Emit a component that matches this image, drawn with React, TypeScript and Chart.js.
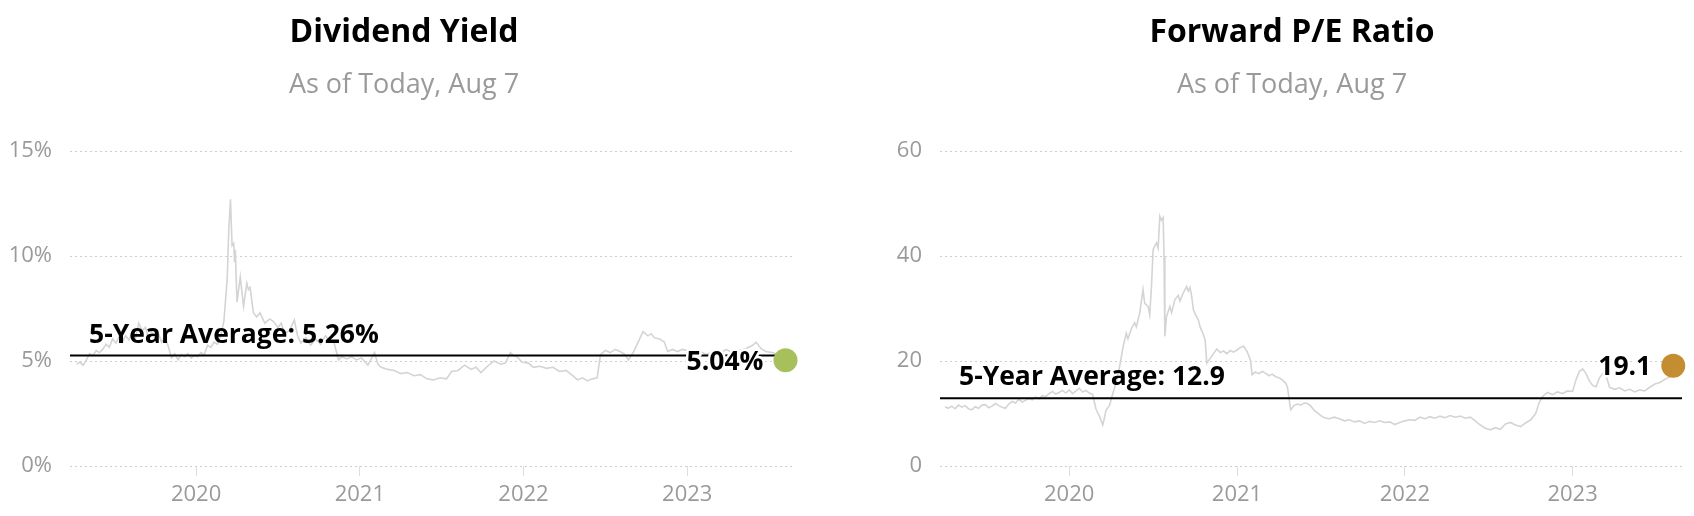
import React, { useEffect, useRef } from "react";
import { Chart, registerables } from "chart.js";

Chart.register(...registerables);

const FONT = '"Open Sans", "DejaVu Sans", sans-serif';

// shared x range (decimal years) and year tick labels
const X_MIN = 2019.23;
const X_MAX = 2023.652;
const yearTicks = [2020, 2021, 2022, 2023];

// ---------- Dividend Yield ----------
const yieldDates = [
  2019.27, 2019.29, 2019.31, 2019.33, 2019.35, 2019.37, 2019.39, 2019.41, 2019.43, 2019.45,
  2019.47, 2019.49, 2019.51, 2019.53, 2019.55, 2019.57, 2019.59, 2019.61, 2019.63, 2019.65,
  2019.67, 2019.69, 2019.71, 2019.73, 2019.75, 2019.77, 2019.79, 2019.81, 2019.83, 2019.85,
  2019.87, 2019.89, 2019.91, 2019.93, 2019.95, 2019.97, 2019.99, 2020.01, 2020.03, 2020.05,
  2020.07, 2020.09, 2020.11, 2020.13, 2020.15, 2020.17, 2020.19, 2020.2, 2020.21, 2020.22,
  2020.23, 2020.235, 2020.24, 2020.245, 2020.25, 2020.27, 2020.28, 2020.29, 2020.31, 2020.32,
  2020.33, 2020.35, 2020.37, 2020.39, 2020.42, 2020.45, 2020.47, 2020.5, 2020.52, 2020.54,
  2020.57, 2020.6, 2020.62, 2020.64, 2020.67, 2020.7, 2020.73, 2020.76, 2020.79, 2020.82,
  2020.84, 2020.87, 2020.89, 2020.92, 2020.95, 2020.98, 2021.01, 2021.05, 2021.09, 2021.11,
  2021.13, 2021.17, 2021.21, 2021.25, 2021.29, 2021.33, 2021.37, 2021.41, 2021.45, 2021.49,
  2021.53, 2021.56, 2021.6, 2021.64, 2021.68, 2021.71, 2021.74, 2021.78, 2021.82, 2021.86,
  2021.89, 2021.92, 2021.94, 2021.96, 2021.99, 2022.03, 2022.06, 2022.1, 2022.14, 2022.18,
  2022.22, 2022.26, 2022.3, 2022.33, 2022.36, 2022.39, 2022.42, 2022.45, 2022.47, 2022.5,
  2022.53, 2022.56, 2022.59, 2022.62, 2022.64, 2022.67, 2022.7, 2022.73, 2022.76, 2022.78,
  2022.8, 2022.83, 2022.86, 2022.88, 2022.91, 2022.94, 2022.97, 2023.0, 2023.04, 2023.08,
  2023.12, 2023.16, 2023.2, 2023.24, 2023.28, 2023.32, 2023.36, 2023.4, 2023.42, 2023.45,
  2023.48, 2023.52, 2023.56, 2023.6,
];
const yieldValues = [
  4.85, 4.95, 4.8, 5.05, 5.35, 5.25, 5.5, 5.4, 5.55, 5.8,
  5.65, 6.05, 5.85, 6.15, 5.9, 6.2, 6.0, 6.35, 6.1, 6.8,
  6.45, 6.6, 6.1, 6.4, 6.05, 6.3, 5.9, 6.15, 5.7, 5.15,
  5.35, 5.05, 5.3, 5.2, 5.35, 5.15, 5.25, 5.2, 5.4, 5.3,
  5.75, 5.65, 5.9, 5.8, 6.2, 6.9, 8.9, 11.25, 12.7, 10.5,
  10.6, 9.7, 10.3, 8.9, 7.8, 9.0, 8.3, 7.6, 8.7, 8.4,
  8.5, 7.3, 7.1, 7.3, 6.8, 7.0, 6.9, 6.6, 6.8, 6.3,
  6.45, 6.95, 6.2, 5.85, 6.1, 5.75, 6.05, 5.8, 6.2, 5.9,
  5.95, 5.05, 5.2, 5.1, 5.2, 5.05, 5.15, 4.8, 5.4, 4.85,
  4.7, 4.6, 4.55, 4.4, 4.45, 4.3, 4.35, 4.15, 4.1, 4.2,
  4.15, 4.5, 4.55, 4.8, 4.6, 4.7, 4.45, 4.75, 5.0, 4.85,
  4.9, 5.4, 5.25, 5.2, 4.95, 4.9, 4.7, 4.75, 4.65, 4.7,
  4.5, 4.55, 4.3, 4.1, 4.2, 4.05, 4.15, 4.2, 5.3, 5.5,
  5.4, 5.55, 5.45, 5.3, 5.05, 5.4, 5.9, 6.4, 6.2, 6.3,
  6.1, 6.05, 5.9, 5.45, 5.55, 5.45, 5.55, 5.5, 5.35, 5.45,
  5.3, 5.5, 5.4, 5.55, 5.35, 5.5, 5.6, 5.75, 5.9, 5.6,
  5.45, 5.4, 5.3, 5.04,
];
const yieldAverage = 5.26;
const yieldTicks = [0, 5, 10, 15];

// ---------- Forward P/E ----------
const peDates = [
  2019.26, 2019.28, 2019.3, 2019.32, 2019.34, 2019.36, 2019.38, 2019.4, 2019.42, 2019.44,
  2019.46, 2019.48, 2019.5, 2019.52, 2019.54, 2019.56, 2019.58, 2019.6, 2019.62, 2019.64,
  2019.66, 2019.68, 2019.7, 2019.72, 2019.74, 2019.76, 2019.78, 2019.8, 2019.82, 2019.84,
  2019.86, 2019.88, 2019.9, 2019.92, 2019.94, 2019.96, 2019.98, 2020.0, 2020.02, 2020.04,
  2020.06, 2020.08, 2020.1, 2020.12, 2020.14, 2020.16, 2020.18, 2020.2, 2020.21, 2020.22,
  2020.24, 2020.26, 2020.28, 2020.3, 2020.32, 2020.34, 2020.35, 2020.37, 2020.39, 2020.4,
  2020.42, 2020.44, 2020.45, 2020.47, 2020.48, 2020.49, 2020.5, 2020.52, 2020.53, 2020.54,
  2020.55, 2020.56, 2020.565, 2020.57, 2020.58, 2020.6, 2020.61, 2020.63, 2020.65, 2020.66,
  2020.68, 2020.7, 2020.71, 2020.72, 2020.73, 2020.74, 2020.75, 2020.77, 2020.78, 2020.8,
  2020.81, 2020.82, 2020.84, 2020.86, 2020.88, 2020.9, 2020.92, 2020.94, 2020.96, 2020.98,
  2021.0, 2021.02, 2021.04, 2021.06, 2021.08, 2021.09, 2021.11, 2021.13, 2021.15, 2021.17,
  2021.19, 2021.21, 2021.23, 2021.25, 2021.27, 2021.29, 2021.3, 2021.32, 2021.34, 2021.36,
  2021.38, 2021.4, 2021.42, 2021.44, 2021.46, 2021.48, 2021.5, 2021.52, 2021.55, 2021.58,
  2021.61, 2021.64, 2021.67, 2021.7, 2021.73, 2021.76, 2021.79, 2021.82, 2021.85, 2021.88,
  2021.91, 2021.94, 2021.97, 2022.0, 2022.03, 2022.06, 2022.09, 2022.12, 2022.15, 2022.18,
  2022.21, 2022.24, 2022.27, 2022.3, 2022.33, 2022.36, 2022.39, 2022.42, 2022.45, 2022.48,
  2022.51, 2022.54, 2022.57, 2022.6, 2022.63, 2022.66, 2022.69, 2022.72, 2022.75, 2022.78,
  2022.8, 2022.82, 2022.85, 2022.88, 2022.91, 2022.94, 2022.97, 2023.0, 2023.02, 2023.04,
  2023.06, 2023.08, 2023.1, 2023.12, 2023.14, 2023.16, 2023.18, 2023.2, 2023.22, 2023.25,
  2023.28, 2023.31, 2023.34, 2023.37, 2023.4, 2023.43, 2023.46, 2023.49, 2023.52, 2023.55,
  2023.58, 2023.6,
];
const peValues = [
  11.3, 11.0, 11.4, 10.9, 11.6, 11.2, 11.5, 10.9, 10.7, 11.3,
  11.0, 11.6, 11.7, 11.1, 11.4, 11.9, 11.5, 11.2, 11.0, 11.8,
  12.3, 12.0, 12.7, 12.2, 12.5, 12.9, 12.6, 13.1, 12.8, 13.4,
  13.2, 13.8, 14.2, 13.7, 14.0, 14.4, 13.9, 14.5, 13.8, 14.3,
  14.8, 14.1, 14.4, 13.9, 13.6, 10.8, 9.5, 7.8, 9.2, 10.7,
  11.5, 13.8, 16.0, 18.9, 22.5, 25.3, 24.2, 26.1, 27.3, 26.5,
  29.1, 33.6, 31.0, 30.4, 28.8, 34.0, 41.2, 42.5, 41.5, 47.6,
  46.8, 47.3, 40.0, 24.7, 28.5, 30.4, 29.2, 31.7, 32.5, 31.4,
  33.0, 34.2, 33.3, 34.0, 32.3, 29.8, 29.0, 27.8, 26.5, 25.0,
  24.0, 19.6, 20.5, 21.4, 22.3, 21.6, 21.9, 21.4, 22.0, 21.7,
  22.1, 22.6, 22.8, 21.8, 20.2, 17.4, 17.9, 17.6, 18.0, 17.7,
  17.2, 17.5, 17.0, 16.8, 16.4, 15.8, 15.1, 10.7, 11.5, 11.8,
  11.6, 12.0, 11.9, 11.4, 10.6, 10.1, 9.6, 9.2, 9.0, 9.3,
  9.0, 8.6, 8.8, 8.4, 8.6, 8.1, 8.5, 8.3, 8.6, 8.3,
  8.4, 7.9, 8.3, 8.6, 8.8, 8.7, 9.3, 9.0, 9.4, 9.1,
  9.5, 9.2, 9.6, 9.3, 9.5, 9.1, 9.3, 8.6, 7.8, 7.2,
  6.9, 7.3, 7.0, 8.0, 8.3, 7.8, 7.5, 8.2, 8.8, 10.0,
  12.0, 13.2, 14.0, 13.6, 14.1, 13.8, 14.3, 14.2, 16.4, 18.0,
  18.5, 17.6, 16.2, 15.3, 15.1, 16.8, 17.6, 17.2, 15.0, 14.6,
  14.9, 14.3, 14.6, 14.1, 14.5, 14.3, 15.0, 15.6, 15.9, 16.5,
  17.0, 19.1,
];
const peAverage = 12.9;
const peTicks = [0, 20, 40, 60];

type Spec = {
  title: string;
  subtitle: string;
  dates: number[];
  values: number[];
  average: number;
  averageLabel: string;
  currentLabel: string;
  dotColor: string;
  yTicks: number[];
  yFormat: (v: number) => string;
  axisWidth: number;
  rightPad: number;
};

function makeChart(canvas: HTMLCanvasElement, s: Spec) {
  const n = s.values.length;
  const lastX = s.dates[n - 1];
  const lastY = s.values[n - 1];
  const labelSize = 26.5;

  const textPlugin = {
    id: "textPlugin",
    afterDatasetsDraw(chart: any) {
      const ctx = chart.ctx;
      const xs = chart.scales.x;
      const ys = chart.scales.y;
      const area = chart.chartArea;
      ctx.save();
      // average label
      ctx.font = `700 ${labelSize}px ${FONT}`;
      ctx.fillStyle = "#000";
      ctx.textAlign = "left";
      ctx.textBaseline = "alphabetic";
      ctx.fillText(s.averageLabel, area.left + 19, ys.getPixelForValue(s.average) - 13);
      // current value label with white halo
      const dx = xs.getPixelForValue(lastX);
      const dy = ys.getPixelForValue(lastY);
      ctx.textAlign = "right";
      ctx.lineJoin = "round";
      ctx.lineWidth = 5;
      ctx.strokeStyle = "#fff";
      const by = dy + labelSize * 0.357;
      ctx.strokeText(s.currentLabel, dx - 22, by);
      ctx.fillText(s.currentLabel, dx - 22, by);
      ctx.restore();
    },
    afterDraw(chart: any) {
      const ctx = chart.ctx;
      ctx.save();
      ctx.textAlign = "center";
      ctx.textBaseline = "alphabetic";
      ctx.fillStyle = "#000";
      ctx.font = `700 32px ${FONT}`;
      ctx.fillText(s.title, chart.width / 2, 42);
      ctx.fillStyle = "#9a9a9a";
      ctx.font = `400 27px ${FONT}`;
      ctx.fillText(s.subtitle, chart.width / 2, 93);
      ctx.restore();
    },
  };

  return new Chart(canvas, {
    type: "line",
    data: {
      datasets: [
        {
          label: "current",
          data: [{ x: lastX, y: lastY }],
          pointRadius: 12,
          pointBackgroundColor: s.dotColor,
          pointBorderWidth: 0,
          showLine: false,
          clip: false,
          order: 0,
        },
        {
          label: "average",
          data: [
            { x: X_MIN, y: s.average },
            { x: X_MAX, y: s.average },
          ],
          borderColor: "#000",
          borderWidth: 2,
          pointRadius: 0,
          order: 1,
        },
        {
          label: "series",
          data: s.dates.map((d, i) => ({ x: d, y: s.values[i] })),
          borderColor: "#d4d4d4",
          borderWidth: 1.6,
          pointRadius: 0,
          tension: 0,
          order: 2,
        },
      ],
    },
    options: {
      animation: false,
      responsive: false,
      devicePixelRatio: 1,
      layout: { padding: { top: 151, right: s.rightPad, bottom: 0, left: 0 } },
      plugins: {
        legend: { display: false },
        tooltip: { enabled: false },
        title: { display: false },
      },
      scales: {
        x: {
          type: "linear",
          min: X_MIN,
          max: X_MAX,
          afterBuildTicks: (sc: any) => {
            sc.ticks = yearTicks.map((v) => ({ value: v }));
          },
          afterFit: (sc: any) => {
            sc.height = 50;
          },
          grid: {
            drawOnChartArea: false,
            drawTicks: true,
            tickLength: 10,
            color: "#dddddd",
            lineWidth: 1,
          },
          border: { display: false },
          ticks: {
            color: "#9a9a9a",
            font: { family: FONT, size: 22 },
            padding: 6,
            maxRotation: 0,
            autoSkip: false,
            callback: (v: any) => String(v),
          },
        },
        y: {
          type: "linear",
          min: s.yTicks[0],
          max: s.yTicks[s.yTicks.length - 1],
          afterBuildTicks: (sc: any) => {
            sc.ticks = s.yTicks.map((v) => ({ value: v }));
          },
          afterFit: (sc: any) => {
            sc.width = s.axisWidth;
          },
          grid: { drawTicks: false, color: "#cfcfcf", lineWidth: 1 },
          border: { display: false, dash: [2, 3] },
          ticks: {
            color: "#9a9a9a",
            font: { family: FONT, size: 22 },
            padding: 18,
            callback: (v: any) => s.yFormat(Number(v)),
          },
        },
      },
    },
    plugins: [textPlugin],
  } as any);
}

function ChartBox(props: { spec: Spec; left: number; width: number }) {
  const ref = useRef<HTMLCanvasElement | null>(null);
  useEffect(() => {
    if (!ref.current) return;
    const chart = makeChart(ref.current, props.spec);
    return () => chart.destroy();
  }, []);
  return (
    <canvas
      ref={ref}
      width={props.width}
      height={516}
      style={{ position: "absolute", left: props.left, top: 0, width: props.width, height: 516 }}
    />
  );
}

const yieldSpec: Spec = {
  title: "Dividend Yield",
  subtitle: "As of Today, Aug 7",
  dates: yieldDates,
  values: yieldValues,
  average: yieldAverage,
  averageLabel: "5-Year Average: 5.26%",
  currentLabel: "5.04%",
  dotColor: "#a8c05c",
  yTicks: yieldTicks,
  yFormat: (v) => `${v}%`,
  axisWidth: 70,
  rightPad: 14,
};

const peSpec: Spec = {
  title: "Forward P/E Ratio",
  subtitle: "As of Today, Aug 7",
  dates: peDates,
  values: peValues,
  average: peAverage,
  averageLabel: "5-Year Average: 12.9",
  currentLabel: "19.1",
  dotColor: "#c48d31",
  yTicks: peTicks,
  yFormat: (v) => `${v}`,
  axisWidth: 50,
  rightPad: 12,
};

export default function App() {
  return (
    <div style={{ position: "absolute", left: 0, top: 0, width: 1694, height: 516, background: "#fff", overflow: "hidden" }}>
      <ChartBox spec={yieldSpec} left={0} width={808} />
      <ChartBox spec={peSpec} left={890} width={804} />
    </div>
  );
}
